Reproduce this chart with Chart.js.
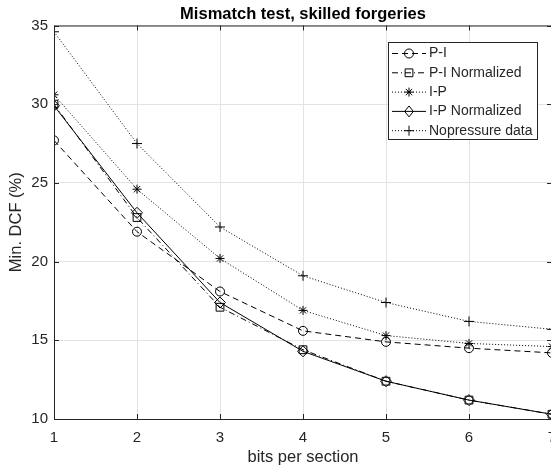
<!DOCTYPE html>
<html>
<head>
  <meta charset="UTF-8">
  <title>Mismatch test, skilled forgeries</title>
  <script src="https://cdn.jsdelivr.net/npm/chart.js"></script>
  <style>
    html, body {
      margin: 0;
      padding: 0;
      background: #fff;
      overflow: hidden;
    }
    #wrap {
      width: 570px;
      height: 470px;
    }
  </style>
</head>
<body>
  <div id="wrap"><canvas id="dcfChart" width="570" height="470"></canvas></div>

  <script>
    // values
    const bits = [1, 2, 3, 4, 5, 6, 7];
    const piVals = [27.7, 21.9, 18.1, 15.6, 14.9, 14.5, 14.2];
    const piNormVals = [30.0, 22.8, 17.1, 14.4, 12.4, 11.2, 10.3];
    const ipVals = [30.6, 24.6, 20.2, 16.9, 15.3, 14.8, 14.6];
    const ipNormVals = [29.9, 23.1, 17.4, 14.3, 12.4, 11.2, 10.3];
    const noPressureVals = [34.6, 27.5, 22.2, 19.1, 17.4, 16.2, 15.7];

    const xTicks = [1, 2, 3, 4, 5, 6, 7];
    const yTicks = [10, 15, 20, 25, 30, 35];

    const chartTitle = 'Mismatch test, skilled forgeries';
    const seriesNames = ['P-I', 'P-I Normalized', 'I-P', 'I-P Normalized', 'Nopressure data'];
    const seriesVals = [piVals, piNormVals, ipVals, ipNormVals, noPressureVals];
    const dashes = [[6, 4], [6, 3, 1, 3], [1, 2], [], [1, 2]];
    const markers = ['circle', 'rect', 'star', 'rectRot', 'cross'];
    const markerSize = [4.5, 5.5, 4.5, 5.5, 5];

    const axisColor = '#262626';
    const gridColor = '#e3e3e3';
    const fontFamily = '"Liberation Sans", Arial, Helvetica, sans-serif';

    const datasets = seriesNames.map((name, i) => ({
      label: name,
      data: bits.map((b, j) => ({ x: b, y: seriesVals[i][j] })),
      borderColor: '#000',
      backgroundColor: 'rgba(0,0,0,0)',
      borderWidth: 1,
      borderDash: dashes[i],
      pointStyle: markers[i],
      pointRadius: markerSize[i],
      pointBorderColor: '#000',
      pointBackgroundColor: 'rgba(0,0,0,0)',
      pointBorderWidth: 1,
      fill: false,
      tension: 0
    }));

    function drawMarker(ctx, style, r, x, y) {
      ctx.beginPath();
      if (style === 'circle') {
        ctx.arc(x, y, r, 0, Math.PI * 2);
      } else if (style === 'rect') {
        const s = r * Math.SQRT1_2;
        ctx.rect(x - s, y - s, 2 * s, 2 * s);
      } else if (style === 'rectRot') {
        const s = r * Math.SQRT1_2 * 1.4;
        ctx.moveTo(x, y - s);
        ctx.lineTo(x + s * 0.8, y);
        ctx.lineTo(x, y + s);
        ctx.lineTo(x - s * 0.8, y);
        ctx.closePath();
      } else if (style === 'star') {
        const d = r * Math.SQRT1_2;
        ctx.moveTo(x - r, y); ctx.lineTo(x + r, y);
        ctx.moveTo(x, y - r); ctx.lineTo(x, y + r);
        ctx.moveTo(x - d, y - d); ctx.lineTo(x + d, y + d);
        ctx.moveTo(x - d, y + d); ctx.lineTo(x + d, y - d);
      } else if (style === 'cross') {
        ctx.moveTo(x - r, y); ctx.lineTo(x + r, y);
        ctx.moveTo(x, y - r); ctx.lineTo(x, y + r);
      }
      ctx.stroke();
    }

    // box with inward ticks, title over the plot area, matlab-like legend
    const boxPlugin = {
      id: 'boxPlugin',
      afterDraw(chart) {
        const ctx = chart.ctx;
        const a = chart.chartArea;
        const xs = chart.scales.x;
        const ys = chart.scales.y;
        ctx.save();
        ctx.strokeStyle = axisColor;
        ctx.lineWidth = 1;
        ctx.setLineDash([]);
        ctx.strokeRect(a.left + 0.5, a.top + 0.5, a.right - a.left, a.bottom - a.top);
        const tl = 5;
        ctx.beginPath();
        xTicks.forEach(v => {
          const px = Math.round(xs.getPixelForValue(v)) + 0.5;
          ctx.moveTo(px, a.bottom); ctx.lineTo(px, a.bottom - tl);
          ctx.moveTo(px, a.top); ctx.lineTo(px, a.top + tl);
        });
        yTicks.forEach(v => {
          const py = Math.round(ys.getPixelForValue(v)) + 0.5;
          ctx.moveTo(a.left, py); ctx.lineTo(a.left + tl, py);
          ctx.moveTo(a.right, py); ctx.lineTo(a.right - tl, py);
        });
        ctx.stroke();

        // title centred on the axes like matlab does
        ctx.fillStyle = '#000';
        ctx.font = 'bold 16.5px ' + fontFamily;
        ctx.textAlign = 'center';
        ctx.textBaseline = 'middle';
        ctx.fillText(chartTitle, (a.left + a.right) / 2, 14);

        // legend
        const lx = 388, ly = 42, lw = 149, lh = 97;
        ctx.fillStyle = '#fff';
        ctx.fillRect(lx, ly, lw, lh);
        ctx.strokeStyle = axisColor;
        ctx.strokeRect(lx + 0.5, ly + 0.5, lw, lh);
        ctx.font = '14px ' + fontFamily;
        ctx.textBaseline = 'middle';
        ctx.textAlign = 'left';
        seriesNames.forEach((name, i) => {
          const y = ly + 11.5 + i * 19.3;
          ctx.strokeStyle = '#000';
          ctx.setLineDash(dashes[i]);
          ctx.beginPath();
          ctx.moveTo(lx + 4, y);
          ctx.lineTo(lx + 38, y);
          ctx.stroke();
          ctx.setLineDash([]);
          drawMarker(ctx, markers[i], markerSize[i], lx + 21, y);
          ctx.fillStyle = axisColor;
          ctx.fillText(name, lx + 41, y);
        });
        ctx.restore();
      }
    };

    new Chart(document.getElementById('dcfChart'), {
      type: 'line',
      data: { datasets: datasets },
      plugins: [boxPlugin],
      options: {
        responsive: false,
        animation: false,
        layout: { padding: { top: 25.5, right: 18, bottom: 0, left: 0 } },
        plugins: {
          legend: { display: false },
          tooltip: { enabled: false },
          title: { display: false }
        },
        scales: {
          x: {
            type: 'linear',
            min: 1,
            max: 7,
            afterFit: s => { s.height = 51; },
            afterBuildTicks: s => { s.ticks = xTicks.map(v => ({ value: v })); },
            grid: { color: gridColor, drawTicks: false },
            border: { display: false },
            ticks: {
              color: axisColor,
              padding: 10,
              maxRotation: 0,
              font: { family: fontFamily, size: 15 }
            },
            title: {
              display: true,
              text: 'bits per section',
              color: axisColor,
              font: { family: fontFamily, size: 16.5 },
              padding: { top: 0, bottom: 3 }
            }
          },
          y: {
            type: 'linear',
            min: 10,
            max: 35,
            afterFit: s => { s.width = 54; },
            afterBuildTicks: s => { s.ticks = yTicks.map(v => ({ value: v })); },
            grid: { color: gridColor, drawTicks: false },
            border: { display: false },
            ticks: {
              color: axisColor,
              padding: 6,
              font: { family: fontFamily, size: 15 }
            },
            title: {
              display: true,
              text: 'Min. DCF (%)',
              color: axisColor,
              font: { family: fontFamily, size: 16.5 },
              padding: { top: 7, bottom: 0 }
            }
          }
        }
      }
    });
  </script>
</body>
</html>
